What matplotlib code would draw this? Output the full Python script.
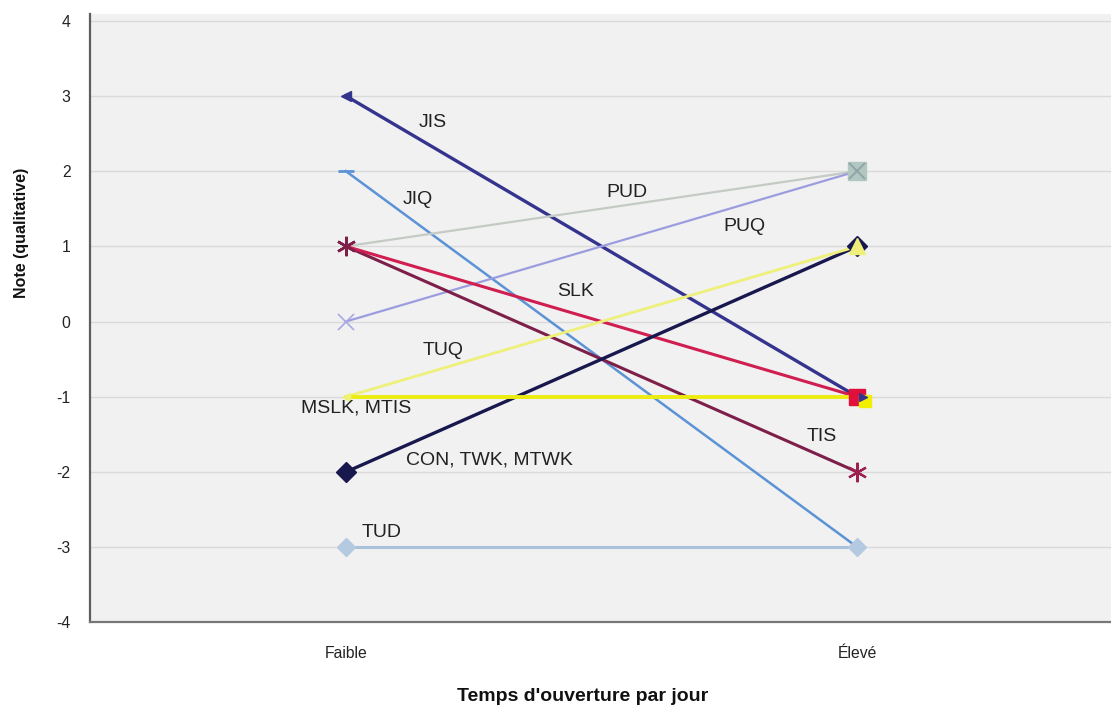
import matplotlib.pyplot as plt

plt.rcParams['font.family'] = ['Liberation Sans', 'DejaVu Sans']
plt.rcParams['axes.unicode_minus'] = False

categories = ["Faible", "Élevé"]

# one line per group: (start, end)
series_names = ["JIS", "JIQ", "PUD", "PUQ", "TIS", "SLK", "CON, TWK, MTWK",
                "TUQ", "MSLK, MTIS", "TUD"]
series_values = [
    [3, -1],
    [2, -3],
    [1, 2],
    [0, 2],
    [1, -2],
    [1, -1],
    [-2, 1],
    [-1, 1],
    [-1, -1],
    [-3, -3],
]
# where each name is written (category position, note)
label_pos = [
    (1.17, 2.65), (1.14, 1.62), (1.55, 1.72), (1.78, 1.27), (1.93, -1.53),
    (1.45, 0.40), (1.28, -1.84), (1.19, -0.39), (1.02, -1.15), (1.07, -2.80),
]

line_styles = {
    "JIS": dict(color="#34348f", lw=2.4),
    "JIQ": dict(color="#5b93d6", lw=1.8),
    "PUD": dict(color="#c4cac4", lw=1.6),
    "PUQ": dict(color="#9c9ce0", lw=1.6),
    "TIS": dict(color="#7d1f49", lw=2.2),
    "SLK": dict(color="#d01e50", lw=2.2),
    "CON, TWK, MTWK": dict(color="#18184e", lw=2.4),
    "TUQ": dict(color="#eef07a", lw=2.0),
    "MSLK, MTIS": dict(color="#ecec10", lw=2.8),
    "TUD": dict(color="#a9c2dc", lw=2.2),
}

x = [1, 2]

fig = plt.figure(figsize=(11.11, 7.11), dpi=100)
ax = fig.add_axes([0.081, 0.1245, 0.921, 0.856])
ax.set_facecolor("#f1f1f1")

for name, vals in zip(series_names, series_values):
    ax.plot(x, vals, linestyle="-", zorder=3, **line_styles[name])

v = dict(zip(series_names, series_values))

def mark(xi, yi, **kw):
    ax.plot([xi], [yi], linestyle="none", **kw)

# markers at Faible
mark(1, v["JIS"][0], marker="<", ms=7, color="#34348f", zorder=4)
mark(1, v["JIQ"][0], marker="_", ms=12, mew=2, color="#5b93d6", zorder=4)
mark(1, v["PUQ"][0], marker="x", ms=11, mew=1.2, color="#a8a8e4", zorder=4)
mark(1, v["TUQ"][0], marker="<", ms=6, color="#eef07a", zorder=4)
mark(1, v["CON, TWK, MTWK"][0], marker="D", ms=10, color="#18184e", zorder=4)
mark(1, v["TUD"][0], marker="D", ms=9, color="#b4cae0", zorder=4)
mark(1, v["SLK"][0], marker=(6, 2, 0), ms=14, mew=1.8, color="#7d1f49", zorder=5)

# markers at Élevé
mark(2, v["PUD"][1], marker="s", ms=13, color="#b2c6c2", zorder=4)
mark(2, v["PUQ"][1], marker="x", ms=11, mew=1.4, color="#8ea6a6", zorder=5)
mark(2, v["CON, TWK, MTWK"][1], marker="D", ms=10, color="#18184e", zorder=4)
mark(2, v["TUQ"][1], marker="^", ms=12, color="#eef07a", zorder=5)
mark(2, v["TIS"][1], marker=(6, 2, 0), ms=14, mew=1.6, color="#9c2050", zorder=4)
mark(2, v["SLK"][1], marker="s", ms=11, color="#e0103a", zorder=4)
mark(2.015, v["MSLK, MTIS"][1] - 0.06, marker="s", ms=9, color="#f0f000", zorder=5)
mark(2.01, v["JIS"][1], marker=">", ms=6, color="#34348f", zorder=6)
mark(2, v["TUD"][1], marker="D", ms=9, color="#b4cae0", zorder=4)

for name, (lx, ly) in zip(series_names, label_pos):
    ax.text(lx, ly, name, fontsize=14, color="#222222", ha="center",
            va="center", zorder=7)

ax.set_xlim(0.5, 2.5)
ax.set_ylim(-4, 4.09)
ax.set_yticks(range(-4, 5))
ax.set_xticks(x)
ax.set_xticklabels(categories)
ax.tick_params(axis="both", labelsize=11.3, length=0, pad=17, colors="#222222")
ax.tick_params(axis="y", pad=14)
ax.grid(axis="y", color="#dadada", lw=1)
ax.set_axisbelow(True)

for side in ["top", "right"]:
    ax.spines[side].set_visible(False)
ax.spines["left"].set_color("#5e5e5e")
ax.spines["bottom"].set_color("#777777")
ax.spines["left"].set_linewidth(1.6)
ax.spines["bottom"].set_linewidth(1.6)

fig.text(0.524, 0.02, "Temps d'ouverture par jour", fontsize=14,
         fontweight="bold", ha="center", va="center", color="#111111")
fig.text(0.019, 0.673, "Note (qualitative)", fontsize=11.5, fontweight="bold",
         rotation=90, ha="center", va="center", color="#111111")

fig.savefig("out.png", dpi=100)
